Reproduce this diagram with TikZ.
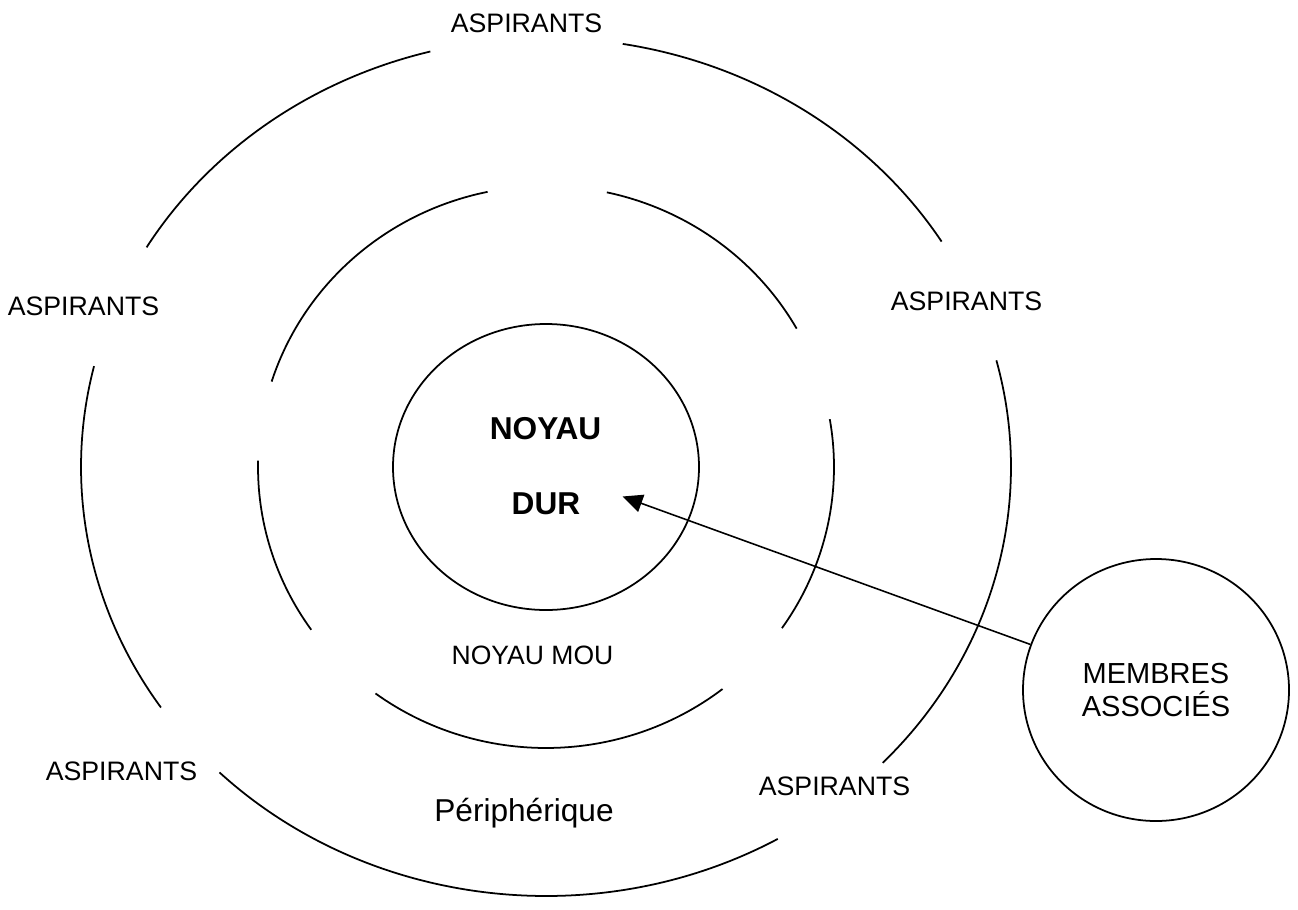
\documentclass[tikz,border=0pt]{standalone}
\usepackage{fontspec}
\setmainfont{Liberation Sans}
\usetikzlibrary{shapes.geometric,arrows.meta}

\tikzset{
  ringline/.style={line width=1pt},
  aspirant/.style={font=\fontsize{15.2}{18}\selectfont},
  hardlabel/.style={font=\fontsize{18}{21}\selectfont\bfseries},
  softlabel/.style={font=\fontsize{15.1}{18}\selectfont},
}

\begin{document}
\begin{tikzpicture}
    \useasboundingbox (-10.92,-8.84) rectangle (15.04,9.34);

    % Noyau dur
    \draw[ringline] (0,0) ellipse [x radius=3.06, y radius=2.86];
    \node[hardlabel] (noyau) at (-0.01,0.76) {NOYAU};
    \node[hardlabel] (dur) at (0,-0.74) {DUR};

    % Noyau mou (broken ring)
    \draw[ringline] (29.5:5.76 and 5.62) arc[start angle=29.5, end angle=77.8, x radius=5.76, y radius=5.62];
    \draw[ringline] (101.7:5.76 and 5.62) arc[start angle=101.7, end angle=162.3, x radius=5.76, y radius=5.62];
    \draw[ringline] (178.7:5.76 and 5.62) arc[start angle=178.7, end angle=215.4, x radius=5.76, y radius=5.62];
    \draw[ringline] (233.7:5.76 and 5.62) arc[start angle=233.7, end angle=307.8, x radius=5.76, y radius=5.62];
    \draw[ringline] (-35:5.76 and 5.62) arc[start angle=-35, end angle=9.8, x radius=5.76, y radius=5.62];
    \node[softlabel] (mou) at (-0.27,-3.77) {NOYAU MOU};

    % Peripherique (broken ring)
    \draw[ringline] (31.7:9.3 and 8.58) arc[start angle=31.7, end angle=80.5, x radius=9.3, y radius=8.58];
    \draw[ringline] (104.4:9.3 and 8.58) arc[start angle=104.4, end angle=149.2, x radius=9.3, y radius=8.58];
    \draw[ringline] (166.4:9.3 and 8.58) arc[start angle=166.4, end angle=214.1, x radius=9.3, y radius=8.58];
    \draw[ringline] (225.4:9.3 and 8.58) arc[start angle=225.4, end angle=299.9, x radius=9.3, y radius=8.58];
    \draw[ringline] (-43.6:9.3 and 8.58) arc[start angle=-43.6, end angle=14.4, x radius=9.3, y radius=8.58];
    \node[anchor=base, font=\fontsize{18}{21}\selectfont] (peri) at (-0.44,-7.09) {Périphérique};

    % Aspirants
    \node[aspirant] (asptop) at (-0.39,8.87) {ASPIRANTS};
    \node[aspirant] (aspleft) at (-9.25,3.21) {ASPIRANTS};
    \node[aspirant] (aspright) at (8.41,3.31) {ASPIRANTS};
    \node[aspirant] (asplowleft) at (-8.49,-6.08) {ASPIRANTS};
    \node[aspirant] (asplowright) at (5.77,-6.39) {ASPIRANTS};

    % Membres associes
    \node[ellipse, draw, ringline, minimum width=5.32cm, minimum height=5.24cm, align=center,
          font=\fontsize{16.5}{19}\selectfont] (membres) at (12.2,-4.46) {MEMBRES\\ASSOCIÉS};
    \coordinate (tip) at (1.53,-0.59);
    \draw[line width=0.9pt, -{Triangle[length=4mm,width=3.6mm]}] (membres) -- (tip);
\end{tikzpicture}
\end{document}
